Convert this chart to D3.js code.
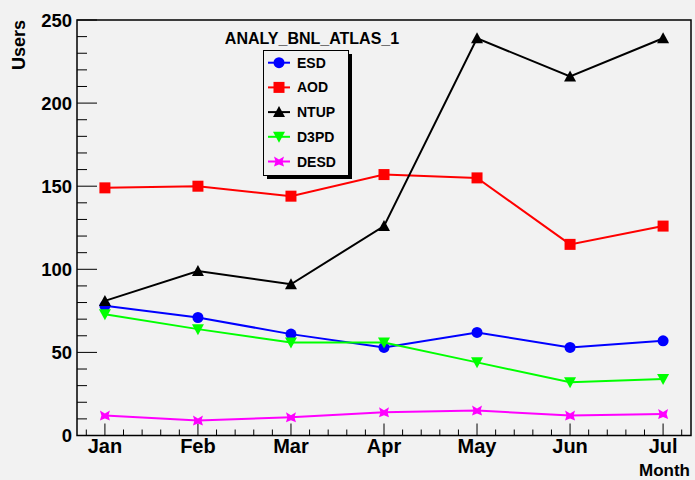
<!DOCTYPE html>
<html>
<head>
<meta charset="utf-8">
<script src="https://cdnjs.cloudflare.com/ajax/libs/d3/7.8.5/d3.min.js"></script>
<style>
  body { margin: 0; background: #f2f2f2; }
  text { font-family: "Liberation Sans", Arial, sans-serif; font-weight: bold; }
</style>
</head>
<body>
<div id="container"></div>
<script>
const w = 695, h = 480;
const months = ['Jan', 'Feb', 'Mar', 'Apr', 'May', 'Jun', 'Jul'];
const esd  = [78, 71, 61, 53, 62, 53, 57];
const aod  = [149, 150, 144, 157, 155, 115, 126];
const ntup = [81, 99, 91, 126, 239, 216, 239];
const d3pd = [73, 64, 56, 56, 44, 32, 34];
const desd = [12, 9, 11, 14, 15, 12, 13];
const yTicks = [0, 50, 100, 150, 200, 250];

const series = [
    {name: 'ESD', values: esd, color: '#0000ff', marker: 'circle'},
    {name: 'AOD', values: aod, color: '#ff0000', marker: 'square'},
    {name: 'NTUP', values: ntup, color: '#000000', marker: 'up'},
    {name: 'D3PD', values: d3pd, color: '#00ff00', marker: 'down'},
    {name: 'DESD', values: desd, color: '#ff00ff', marker: 'star'}
];

const padL = 77, padR = 691, padT = 20, padB = 435.5;

const xScale = d3.scaleLinear().domain([0.7, 7.3]).range([padL, padR]);
const yScale = d3.scaleLinear().domain([0, 250]).range([padB, padT]);

const svg = d3.select('#container').append('svg')
    .attr('width', w).attr('height', h);

svg.append('rect').attr('width', w).attr('height', h).attr('fill', '#f2f2f2');

// frame
svg.append('rect')
    .attr('x', padL).attr('y', padT)
    .attr('width', padR - padL).attr('height', padB - padT)
    .attr('fill', 'none').attr('stroke', '#000').attr('stroke-width', 1.5);

// y axis ticks
const yMinor = d3.range(0, 251, 10);
svg.append('g').selectAll('line').data(yMinor).enter().append('line')
    .attr('x1', padL)
    .attr('x2', d => padL + (d % 50 === 0 ? 20 : 10))
    .attr('y1', d => yScale(d)).attr('y2', d => yScale(d))
    .attr('stroke', '#000').attr('stroke-width', 1);
svg.append('g').selectAll('text').data(yTicks).enter().append('text')
    .attr('x', padL - 5).attr('y', d => yScale(d) + 6.5)
    .attr('text-anchor', 'end').attr('font-size', 18.5)
    .text(d => d);

// x axis ticks
const xMinor = d3.range(0.8, 7.3, 0.2);
svg.append('g').selectAll('line').data(xMinor).enter().append('line')
    .attr('x1', d => xScale(d)).attr('x2', d => xScale(d))
    .attr('y1', padB)
    .attr('y2', d => padB - (Math.abs(d - Math.round(d)) < 0.01 ? 12 : 6))
    .attr('stroke', '#000').attr('stroke-width', 1);
svg.append('g').selectAll('text').data(months).enter().append('text')
    .attr('x', (d, i) => xScale(i + 1)).attr('y', 453)
    .attr('text-anchor', 'middle').attr('font-size', 20)
    .text(d => d);

// axis titles
svg.append('text').attr('x', 690).attr('y', 476)
    .attr('text-anchor', 'end').attr('font-size', 17).text('Month');
svg.append('text').attr('transform', 'translate(25,20) rotate(-90)')
    .attr('text-anchor', 'end').attr('font-size', 18).text('Users');

function marker(g, type, color) {
    if (type === 'circle') g.append('circle').attr('r', 5.5).attr('fill', color);
    else if (type === 'square') g.append('rect').attr('x', -5.5).attr('y', -5.5).attr('width', 11).attr('height', 11).attr('fill', color);
    else if (type === 'up') g.append('path').attr('d', 'M0,-6L6,5L-6,5Z').attr('fill', color);
    else if (type === 'down') g.append('path').attr('d', 'M0,6L6,-5L-6,-5Z').attr('fill', color);
    else g.append('path').attr('d', 'M-5,-5L0,-2L5,-5L3.5,0L5,5L0,3L-5,5L-3.5,0Z').attr('fill', color);
}

const line = d3.line().x((d, i) => xScale(i + 1)).y(d => yScale(d));

series.forEach(s => {
    svg.append('path').datum(s.values)
        .attr('d', line).attr('fill', 'none')
        .attr('stroke', s.color).attr('stroke-width', 2);
    s.values.forEach((v, i) => {
        const g = svg.append('g').attr('transform', 'translate(' + xScale(i + 1) + ',' + yScale(v) + ')');
        marker(g, s.marker, s.color);
    });
});

// legend
const legend = svg.append('g').attr('id', 'legend');
legend.append('rect').attr('x', 267).attr('y', 54).attr('width', 85).attr('height', 125).attr('fill', '#000');
legend.append('rect').attr('x', 263.5).attr('y', 50.5).attr('width', 85).attr('height', 125)
    .attr('fill', '#f2f2f2').attr('stroke', '#000').attr('stroke-width', 1);
legend.append('text').attr('x', 312).attr('y', 44).attr('text-anchor', 'middle')
    .attr('font-size', 16).text('ANALY_BNL_ATLAS_1');
series.forEach((s, i) => {
    const y = 62.7 + i * 24.7;
    legend.append('line').attr('x1', 268).attr('x2', 290).attr('y1', y).attr('y2', y)
        .attr('stroke', s.color).attr('stroke-width', 2);
    marker(legend.append('g').attr('transform', 'translate(279,' + y + ')'), s.marker, s.color);
    legend.append('text').attr('x', 297).attr('y', y + 5).attr('font-size', 14).text(s.name);
});
</script>
</body>
</html>
